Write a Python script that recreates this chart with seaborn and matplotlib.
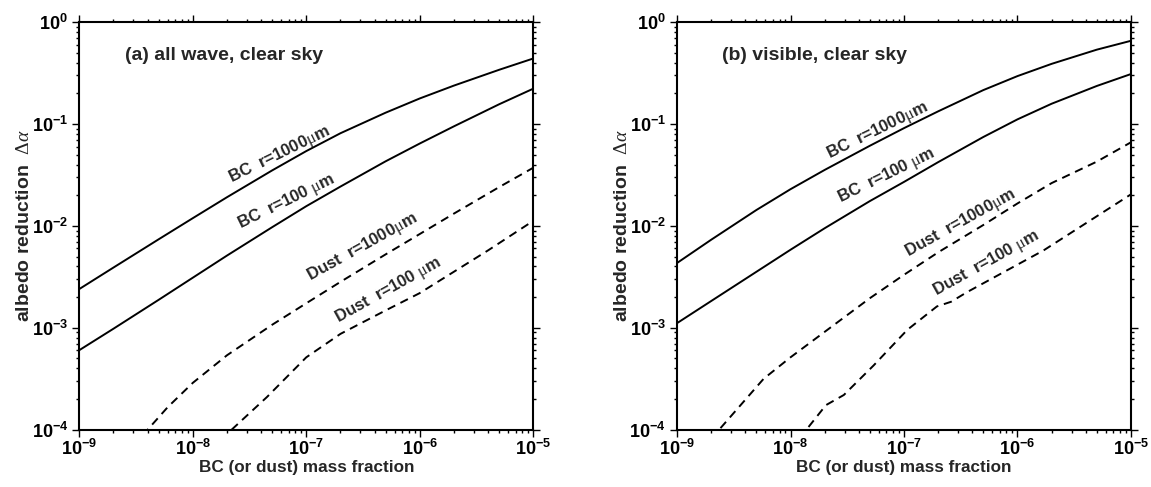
import numpy as np
import pandas as pd
import matplotlib
matplotlib.use("Agg")
import matplotlib.pyplot as plt
import seaborn as sns

# ---------------- data ----------------
x_bc = [1e-9, 2e-9, 5e-9, 1e-8, 2e-8, 5e-8, 1e-7, 2e-7, 5e-7, 1e-6, 2e-6, 5e-6, 1e-5]

# panel (a) all wave
a_bc1000 = [2.40e-3, 3.90e-3, 7.38e-3, 1.19e-2, 1.91e-2, 3.50e-2, 5.42e-2, 8.11e-2,
            0.129, 0.178, 0.238, 0.340, 0.439]
a_bc100 = [6.03e-4, 9.79e-4, 1.88e-3, 3.10e-3, 5.11e-3, 9.70e-3, 1.56e-2, 2.43e-2,
           4.30e-2, 6.43e-2, 9.48e-2, 0.156, 0.222]
a_dust1000_x = [3e-9, 4e-9, 6e-9, 1e-8, 2e-8, 5e-8, 1e-7, 2e-7, 5e-7, 1e-6, 2e-6, 5e-6, 1e-5]
a_dust1000 = [6.92e-5, 1.0e-4, 1.66e-4, 2.88e-4, 5.37e-4, 1.07e-3, 1.74e-3, 2.82e-3,
              5.25e-3, 8.32e-3, 1.32e-2, 2.40e-2, 3.72e-2]
a_dust100_x = [1.8e-8, 2.2e-8, 4.5e-8, 1e-7, 2e-7, 5e-7, 1e-6, 4e-6, 1e-5]
a_dust100 = [7.94e-5, 1.0e-4, 2.09e-4, 5.13e-4, 8.71e-4, 1.48e-3, 2.19e-3, 5.75e-3, 1.12e-2]

# panel (b) visible
b_bc1000 = [4.32e-3, 7.31e-3, 1.43e-2, 2.29e-2, 3.54e-2, 6.11e-2, 9.10e-2, 0.133,
            0.215, 0.295, 0.389, 0.536, 0.655]
b_bc100 = [1.11e-3, 1.83e-3, 3.54e-3, 5.83e-3, 9.48e-3, 1.75e-2, 2.70e-2, 4.22e-2,
           7.45e-2, 0.111, 0.158, 0.236, 0.309]
b_dust1000_x = [2e-9, 2.35e-9, 5.8e-9, 1e-8, 2e-8, 5e-8, 1e-7, 2e-7, 5e-7, 1e-6, 2e-6, 5e-6, 1e-5]
b_dust1000 = [8.13e-5, 1.0e-4, 3.16e-4, 5.13e-4, 9.12e-4, 1.95e-3, 3.31e-3, 5.50e-3,
              1.02e-2, 1.66e-2, 2.63e-2, 4.27e-2, 6.61e-2]
b_dust100_x = [1.2e-8, 1.38e-8, 2.05e-8, 2.95e-8, 5.4e-8, 1.07e-7, 1.95e-7, 2.6e-7, 3.6e-7, 1.7e-6, 1e-5]
b_dust100 = [8.3e-5, 1.0e-4, 1.74e-4, 2.19e-4, 4.27e-4, 9.55e-4, 1.62e-3, 1.80e-3, 2.24e-3, 5.75e-3, 2.04e-2]

series_names = ["BC  r=1000$\\mathrm{\\mu}$m", "BC  r=100 $\\mathrm{\\mu}$m",
                "Dust  r=1000$\\mathrm{\\mu}$m", "Dust  r=100 $\\mathrm{\\mu}$m"]
panel_titles = ["(a) all wave, clear sky", "(b) visible, clear sky"]

# label anchor positions (data coords) and rotations
label_pos_a = [(5.85e-8, 4.95e-2), (6.7e-8, 1.72e-2), (3.11e-7, 6.12e-3), (5.32e-7, 2.34e-3)]
label_pos_b = [(5.8e-8, 8.55e-2), (6.98e-8, 3.08e-2), (3.15e-7, 1.06e-2), (5.33e-7, 4.29e-3)]
label_rot = [26, 26, 29, 29]

x_ticks = [1e-9, 1e-8, 1e-7, 1e-6, 1e-5]
x_tick_labels = ["$\\mathbf{10^{-9}}$", "$\\mathbf{10^{-8}}$", "$\\mathbf{10^{-7}}$",
                 "$\\mathbf{10^{-6}}$", "$\\mathbf{10^{-5}}$"]
y_ticks = [1e-4, 1e-3, 1e-2, 1e-1, 1e0]
y_tick_labels = ["$\\mathbf{10^{-4}}$", "$\\mathbf{10^{-3}}$", "$\\mathbf{10^{-2}}$",
                 "$\\mathbf{10^{-1}}$", "$\\mathbf{10^{0}}$"]

x_label = "BC (or dust) mass fraction"
y_label = "albedo reduction  $\\Delta\\alpha$"

# ---------------- style ----------------
sns.set_theme(style="ticks")
plt.rcParams["font.family"] = ["Liberation Sans", "DejaVu Sans"]
plt.rcParams["mathtext.fontset"] = "custom"
plt.rcParams["mathtext.bf"] = "Liberation Sans:bold"
plt.rcParams["mathtext.rm"] = "Liberation Serif"
plt.rcParams["mathtext.it"] = "Liberation Serif:italic"
plt.rcParams["axes.linewidth"] = 1.5
plt.rcParams["axes.edgecolor"] = "black"
plt.rcParams["lines.solid_joinstyle"] = "round"


def build_frame(bc1000, bc100, d1000x, d1000, d100x, d100):
    parts = []
    for name, xs, ys in [(series_names[0], x_bc, bc1000), (series_names[1], x_bc, bc100),
                         (series_names[2], d1000x, d1000), (series_names[3], d100x, d100)]:
        parts.append(pd.DataFrame({"x": xs, "y": ys, "series": name}))
    return pd.concat(parts, ignore_index=True)


df_a = build_frame(a_bc1000, a_bc100, a_dust1000_x, a_dust1000, a_dust100_x, a_dust100)
df_b = build_frame(b_bc1000, b_bc100, b_dust1000_x, b_dust1000, b_dust100_x, b_dust100)

fig = plt.figure(figsize=(11.51, 4.87), dpi=100)
ax_a = fig.add_axes([0.0689, 0.1177, 0.3944, 0.837])
ax_b = fig.add_axes([0.5882, 0.1177, 0.3944, 0.837])

dash_map = {series_names[0]: "", series_names[1]: "",
            series_names[2]: (4.3, 3.0), series_names[3]: (4.3, 3.0)}

for ax, df, title, lpos in [(ax_a, df_a, panel_titles[0], label_pos_a),
                            (ax_b, df_b, panel_titles[1], label_pos_b)]:
    ax.set_xscale("log")
    ax.set_yscale("log")
    sns.lineplot(data=df, x="x", y="y", hue="series", style="series",
                 palette=["black"] * 4, dashes=dash_map, estimator=None,
                 sort=False, linewidth=1.4, legend=False, ax=ax)
    ax.set_xlim(1e-9, 1e-5)
    ax.set_ylim(1e-4, 1e0)
    ax.set_xticks(x_ticks)
    ax.set_xticklabels(x_tick_labels)
    ax.set_yticks(y_ticks)
    ax.set_yticklabels(y_tick_labels)
    ax.xaxis.set_minor_locator(matplotlib.ticker.LogLocator(base=10, subs=np.arange(2, 10)))
    ax.yaxis.set_minor_locator(matplotlib.ticker.LogLocator(base=10, subs=np.arange(2, 10)))
    ax.xaxis.set_minor_formatter(matplotlib.ticker.NullFormatter())
    ax.yaxis.set_minor_formatter(matplotlib.ticker.NullFormatter())
    ax.tick_params(which="both", direction="out", top=True, right=True,
                   colors="black", width=1.0)
    ax.tick_params(which="major", length=5, labelsize=13)
    ax.tick_params(axis="x", which="major", pad=1.5)
    ax.tick_params(axis="y", which="major", pad=3)
    ax.tick_params(which="minor", length=2.5)
    for s in ax.spines.values():
        s.set_visible(True)
        s.set_linewidth(1.5)
        s.set_color("black")
    ax.set_xlabel(x_label, fontsize=12.3, fontweight="bold", labelpad=0.5)
    ax.set_ylabel(y_label, fontsize=14, fontweight="bold", labelpad=-1)
    ax.text(0.10, 0.917, title, transform=ax.transAxes, ha="left", va="center",
            fontsize=14, fontweight="bold")
    for name, (lx, ly), rot in zip(series_names, lpos, label_rot):
        ax.text(lx, ly, name, ha="center", va="center", rotation=rot,
                rotation_mode="anchor", fontsize=12, fontweight="bold")
    ax.set_facecolor("white")

fig.patch.set_facecolor("white")
fig.savefig("out.png", dpi=100, facecolor="white")
